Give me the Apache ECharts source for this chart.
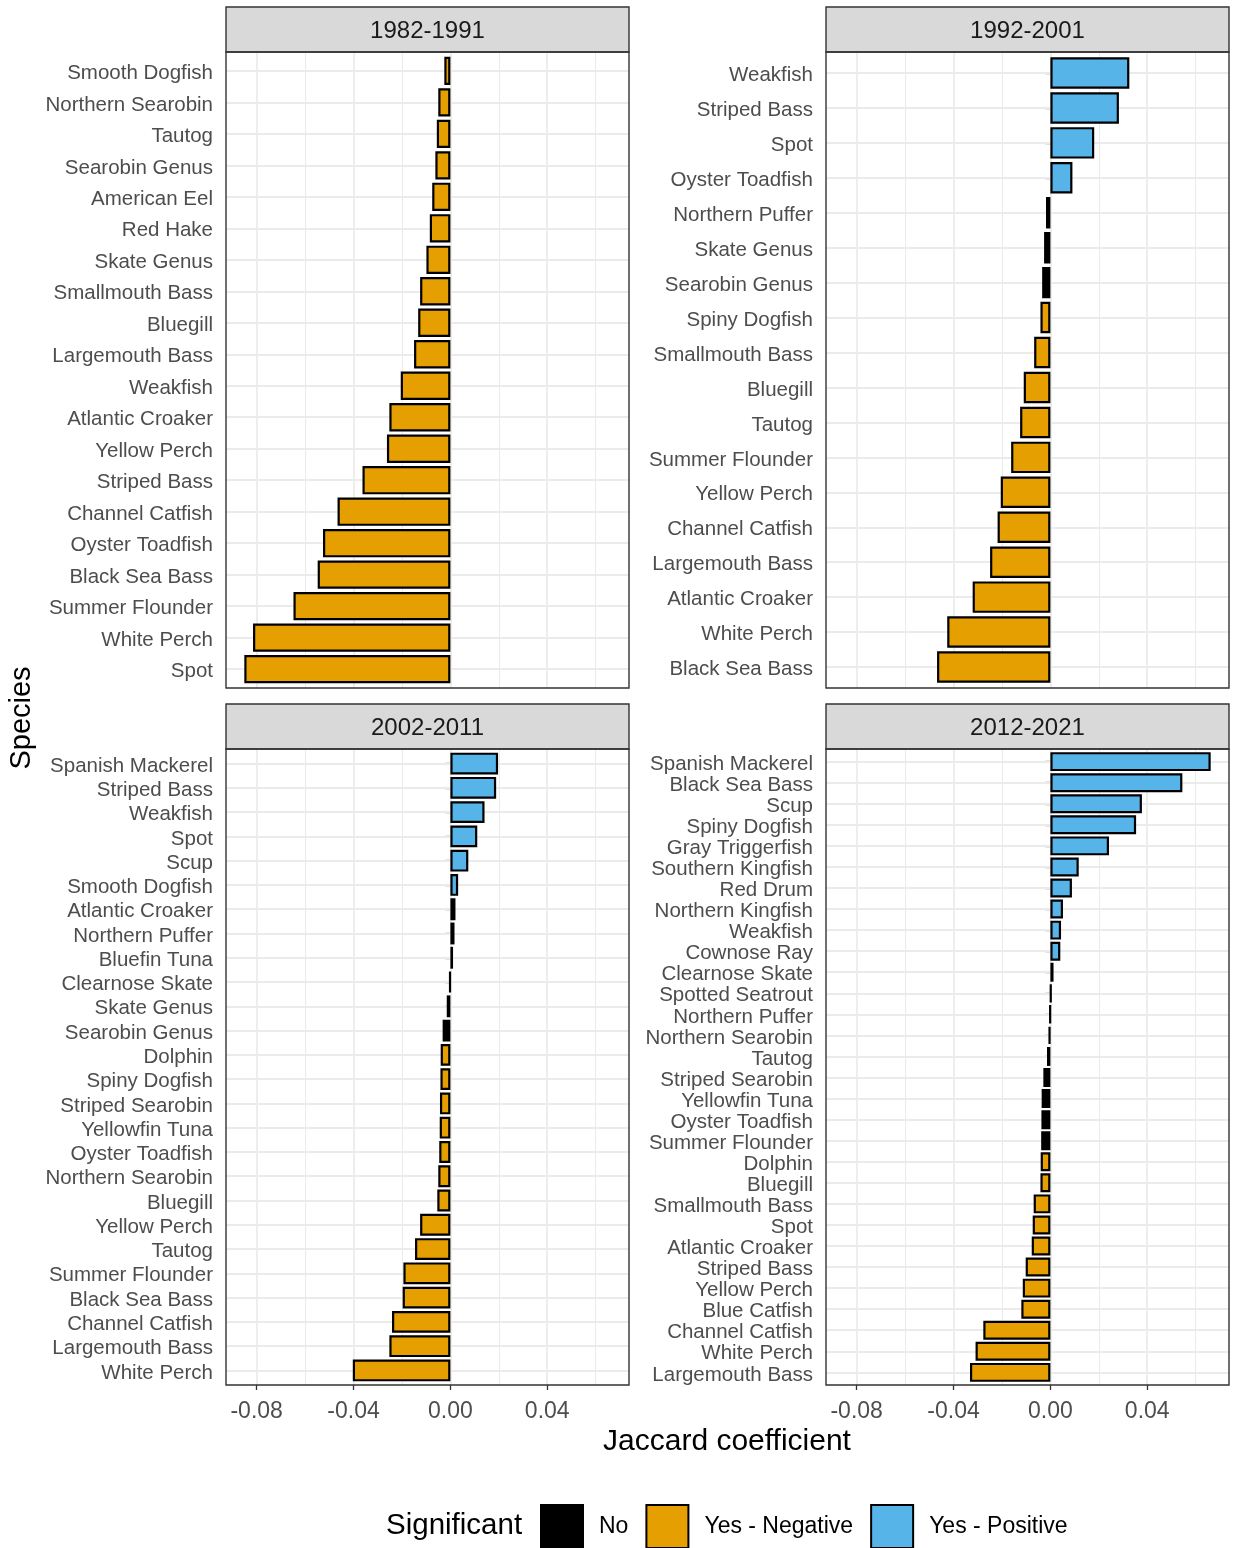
<!DOCTYPE html>
<html>
<head>
<meta charset="utf-8">
<title>Jaccard coefficient by species and decade</title>
<script src="https://cdn.jsdelivr.net/npm/echarts@6/dist/echarts.min.js"></script>
<style>
  html, body { margin: 0; padding: 0; background: #ffffff; }
  #chart { width: 1233px; height: 1548px; }
</style>
</head>
<body>
<div id="chart"></div>
<script>
// ---- data -------------------------------------------------------------
const periods = ['1982-1991', '1992-2001', '2002-2011', '2012-2021'];
const sigLevels = ['No', 'Yes - Negative', 'Yes - Positive'];

// 1982-1991 (top to bottom)
const species1 = ['Smooth Dogfish', 'Northern Searobin', 'Tautog', 'Searobin Genus', 'American Eel',
  'Red Hake', 'Skate Genus', 'Smallmouth Bass', 'Bluegill', 'Largemouth Bass', 'Weakfish',
  'Atlantic Croaker', 'Yellow Perch', 'Striped Bass', 'Channel Catfish', 'Oyster Toadfish',
  'Black Sea Bass', 'Summer Flounder', 'White Perch', 'Spot'];
const jaccard1 = [-0.0025, -0.0050, -0.0056, -0.0062, -0.0075, -0.0085, -0.0099, -0.0125, -0.0133,
  -0.0150, -0.0205, -0.0252, -0.0262, -0.0363, -0.0466, -0.0526, -0.0548, -0.0648, -0.0815, -0.0851];
const signif1 = ['Neg', 'Neg', 'Neg', 'Neg', 'Neg', 'Neg', 'Neg', 'Neg', 'Neg', 'Neg', 'Neg', 'Neg',
  'Neg', 'Neg', 'Neg', 'Neg', 'Neg', 'Neg', 'Neg', 'Neg'];

// 1992-2001
const species2 = ['Weakfish', 'Striped Bass', 'Spot', 'Oyster Toadfish', 'Northern Puffer',
  'Skate Genus', 'Searobin Genus', 'Spiny Dogfish', 'Smallmouth Bass', 'Bluegill', 'Tautog',
  'Summer Flounder', 'Yellow Perch', 'Channel Catfish', 'Largemouth Bass', 'Atlantic Croaker',
  'White Perch', 'Black Sea Bass'];
const jaccard2 = [0.0326, 0.0283, 0.0181, 0.0091, -0.0018, -0.0026, -0.0034, -0.0041, -0.0067,
  -0.0110, -0.0125, -0.0162, -0.0205, -0.0218, -0.0249, -0.0321, -0.0426, -0.0468];
const signif2 = ['Pos', 'Pos', 'Pos', 'Pos', 'No', 'No', 'No', 'Neg', 'Neg', 'Neg', 'Neg', 'Neg',
  'Neg', 'Neg', 'Neg', 'Neg', 'Neg', 'Neg'];

// 2002-2011
const species3 = ['Spanish Mackerel', 'Striped Bass', 'Weakfish', 'Spot', 'Scup', 'Smooth Dogfish',
  'Atlantic Croaker', 'Northern Puffer', 'Bluefin Tuna', 'Clearnose Skate', 'Skate Genus',
  'Searobin Genus', 'Dolphin', 'Spiny Dogfish', 'Striped Searobin', 'Yellowfin Tuna',
  'Oyster Toadfish', 'Northern Searobin', 'Bluegill', 'Yellow Perch', 'Tautog', 'Summer Flounder',
  'Black Sea Bass', 'Channel Catfish', 'Largemouth Bass', 'White Perch'];
const jaccard3 = [0.0197, 0.0189, 0.0141, 0.0111, 0.0074, 0.0032, 0.0021, 0.0017, 0.0011, -0.0003,
  -0.0015, -0.0032, -0.0040, -0.0041, -0.0043, -0.0044, -0.0046, -0.0050, -0.0054, -0.0125, -0.0146,
  -0.0194, -0.0197, -0.0241, -0.0252, -0.0403];
const signif3 = ['Pos', 'Pos', 'Pos', 'Pos', 'Pos', 'Pos', 'No', 'No', 'No', 'No', 'No', 'No',
  'Neg', 'Neg', 'Neg', 'Neg', 'Neg', 'Neg', 'Neg', 'Neg', 'Neg', 'Neg', 'Neg', 'Neg', 'Neg', 'Neg'];

// 2012-2021
const species4 = ['Spanish Mackerel', 'Black Sea Bass', 'Scup', 'Spiny Dogfish', 'Gray Triggerfish',
  'Southern Kingfish', 'Red Drum', 'Northern Kingfish', 'Weakfish', 'Cownose Ray', 'Clearnose Skate',
  'Spotted Seatrout', 'Northern Puffer', 'Northern Searobin', 'Tautog', 'Striped Searobin',
  'Yellowfin Tuna', 'Oyster Toadfish', 'Summer Flounder', 'Dolphin', 'Bluegill', 'Smallmouth Bass',
  'Spot', 'Atlantic Croaker', 'Striped Bass', 'Yellow Perch', 'Blue Catfish', 'Channel Catfish',
  'White Perch', 'Largemouth Bass'];
const jaccard4 = [0.0662, 0.0545, 0.0378, 0.0354, 0.0242, 0.0117, 0.0089, 0.0052, 0.0044, 0.0041,
  0.0013, 0.0003, -0.0002, -0.0007, -0.0014, -0.0029, -0.0036, -0.0037, -0.0038, -0.0040, -0.0041,
  -0.0069, -0.0073, -0.0077, -0.0102, -0.0114, -0.0120, -0.0277, -0.0309, -0.0332];
const signif4 = ['Pos', 'Pos', 'Pos', 'Pos', 'Pos', 'Pos', 'Pos', 'Pos', 'Pos', 'Pos',
  'No', 'No', 'No', 'No', 'No', 'No', 'No', 'No', 'No',
  'Neg', 'Neg', 'Neg', 'Neg', 'Neg', 'Neg', 'Neg', 'Neg', 'Neg', 'Neg', 'Neg'];

const xMajorTicks = [-0.08, -0.04, 0.00, 0.04];
const xMinorTicks = [-0.06, -0.02, 0.02, 0.06];

// ---- styling / layout -------------------------------------------------
const FONT = '"Liberation Sans", Arial, Helvetica, sans-serif';
const fills = ['#000000', '#E69F00', '#56B4E9'];
const sigIndex = { No: 0, Neg: 1, Pos: 2 };
const GRID_COLOR = '#ebebeb';
const FRAME_COLOR = '#333333';

const panels = [
  { title: periods[0], species: species1, values: jaccard1, sig: signif1, left: 226, top: 52, bottomRow: false },
  { title: periods[1], species: species2, values: jaccard2, sig: signif2, left: 826, top: 52, bottomRow: false },
  { title: periods[2], species: species3, values: jaccard3, sig: signif3, left: 226, top: 749, bottomRow: true },
  { title: periods[3], species: species4, values: jaccard4, sig: signif4, left: 826, top: 749, bottomRow: true }
];
const PW = 403, PH = 636, STRIP_H = 45;

// shared x scale: data range widened by 5% on each side
const allValues = [].concat(jaccard1, jaccard2, jaccard3, jaccard4);
const lo = Math.min.apply(null, allValues), hi = Math.max.apply(null, allValues);
const pad = 0.05 * (hi - lo);
const xMin = lo - pad, xMax = hi + pad;

const grids = [], xAxes = [], yAxes = [], series = [], graphics = [];

panels.forEach((p, i) => {
  const n = p.species.length;
  const unit = PH / (n + 0.2);          // discrete axis padded by 0.6 of a step at each end
  const outer = 2 * i, inner = 2 * i + 1;

  // outer grid: whole panel, carries vertical grid lines and the x tick labels
  grids.push({ left: p.left, top: p.top, width: PW, height: PH, show: true,
    backgroundColor: '#ffffff', borderWidth: 0, containLabel: false });
  // inner grid: category band area for the bars
  grids.push({ left: p.left, top: p.top + 0.1 * unit, width: PW, height: PH - 0.2 * unit,
    show: false, containLabel: false });

  xAxes.push({
    type: 'value', gridIndex: outer, min: xMin, max: xMax,
    axisLine: { show: false },
    splitLine: { show: false },
    axisTick: { show: p.bottomRow, customValues: xMajorTicks, length: 5,
      lineStyle: { color: FRAME_COLOR, width: 1.3 } },
    axisLabel: { show: p.bottomRow, customValues: xMajorTicks, margin: 15,
      fontSize: 23, color: '#4d4d4d', fontFamily: FONT,
      formatter: v => v.toFixed(2) }
  });
  xAxes.push({ type: 'value', gridIndex: inner, min: xMin, max: xMax, show: false });

  yAxes.push({ type: 'value', gridIndex: outer, min: 0, max: 1, show: false });
  yAxes.push({
    type: 'category', gridIndex: inner, data: p.species, inverse: true,
    axisLine: { show: false },
    splitLine: { show: false },
    axisTick: { show: true, alignWithLabel: true, interval: 0, length: 5,
      lineStyle: { color: FRAME_COLOR, width: 1.3 } },
    axisLabel: { interval: 0, margin: 13, fontSize: 20.5, color: '#4d4d4d', fontFamily: FONT,
      formatter: '{s|{value}}',
      rich: { s: { fontSize: 20.5, color: '#4d4d4d', fontFamily: FONT, padding: [5, 0, 0, 0] } } }
  });

  // vertical grid lines (major + minor), kept beneath the bars
  series.push({
    type: 'line', xAxisIndex: outer, yAxisIndex: outer, data: [], z: 1, silent: true,
    markLine: {
      z: 1, silent: true, symbol: ['none', 'none'], label: { show: false }, animation: false,
      data: xMajorTicks.map(v => ({ xAxis: v, lineStyle: { color: GRID_COLOR, width: 1.8, type: 'solid' } }))
        .concat(xMinorTicks.map(v => ({ xAxis: v, lineStyle: { color: GRID_COLOR, width: 1, type: 'solid' } })))
    }
  });
  // horizontal grid lines at each species
  series.push({
    type: 'line', xAxisIndex: inner, yAxisIndex: inner, data: [], z: 1, silent: true,
    markLine: {
      z: 1, silent: true, symbol: ['none', 'none'], label: { show: false }, animation: false,
      data: p.species.map(s => ({ yAxis: s, lineStyle: { color: GRID_COLOR, width: 1.8, type: 'solid' } }))
    }
  });

  // bars, one series per significance level, overlapping in the same band
  sigLevels.forEach((name, k) => {
    series.push({
      name: name, type: 'bar', xAxisIndex: inner, yAxisIndex: inner, z: 10,
      barGap: '-100%', barCategoryGap: '10%',
      itemStyle: { color: fills[k], borderColor: '#000000', borderWidth: 2.2 },
      data: p.values.map((v, j) => (sigIndex[p.sig[j]] === k ? v : '-'))
    });
  });

  // facet strip
  graphics.push({
    type: 'rect', z: 50,
    shape: { x: p.left, y: p.top - STRIP_H, width: PW, height: STRIP_H },
    style: { fill: '#d9d9d9', stroke: FRAME_COLOR, lineWidth: 1.4 }
  });
  graphics.push({
    type: 'text', z: 51, x: p.left + PW / 2, y: p.top - STRIP_H / 2 + 1.5,
    style: { text: p.title, font: '24px ' + FONT, fill: '#1a1a1a', align: 'center', verticalAlign: 'middle' }
  });
  // panel frame
  graphics.push({
    type: 'rect', z: 50,
    shape: { x: p.left, y: p.top, width: PW, height: PH },
    style: { fill: 'none', stroke: FRAME_COLOR, lineWidth: 1.4 }
  });
});

// axis titles and legend title
graphics.push({
  type: 'text', z: 51, x: 22, y: 718, rotation: Math.PI / 2,
  style: { text: 'Species', font: '29px ' + FONT, fill: '#000000', align: 'center', verticalAlign: 'middle' }
});
graphics.push({
  type: 'text', z: 51, x: 727, y: 1442,
  style: { text: 'Jaccard coefficient', font: '30px ' + FONT, fill: '#000000', align: 'center', verticalAlign: 'middle' }
});
graphics.push({
  type: 'text', z: 51, x: 386, y: 1526,
  style: { text: 'Significant', font: '29.5px ' + FONT, fill: '#000000', align: 'left', verticalAlign: 'middle' }
});

const chart = echarts.init(document.getElementById('chart'), null, { renderer: 'canvas' });
chart.setOption({
  animation: false,
  backgroundColor: '#ffffff',
  textStyle: { fontFamily: FONT },
  grid: grids,
  xAxis: xAxes,
  yAxis: yAxes,
  series: series,
  legend: {
    data: sigLevels,
    left: 540, top: 1504,
    padding: 0,
    icon: 'rect',
    itemWidth: 42, itemHeight: 43,
    itemGap: 17,
    selectedMode: false,
    textStyle: { fontSize: 23, color: '#000000', fontFamily: FONT, padding: [0, 0, 0, 11] }
  },
  graphic: graphics
});
</script>
</body>
</html>
